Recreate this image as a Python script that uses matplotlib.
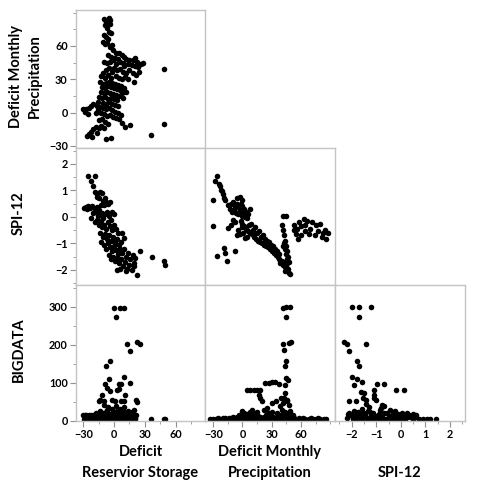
import matplotlib
matplotlib.use("Agg")
import matplotlib.pyplot as plt
from matplotlib.ticker import MultipleLocator

plt.rcParams['font.family'] = ['Lato', 'DejaVu Sans']

# Valores (matriz de dispersion, triangulo inferior)
# fila 1: Deficit Monthly Precipitation vs Deficit Reservior Storage
storage_precip = [
    (-10, 84), (-8, 82), (-5, 85), (-4, 83), (-4, 80), (-9, 79), (-7, 76), (-5, 73), (-3, 72), (-10, 70),
    (-8, 68), (-6, 66), (-11, 64), (-9, 62), (-7, 63), (-2, 61), (-4, 59),
    (-1, 56), (2, 54), (5, 54), (-6, 52), (8, 52), (10, 50), (-3, 50), (1, 49), (4, 48), (12, 48),
    (15, 47), (18, 47), (20, 49), (22, 46), (24, 44), (26, 44), (28, 45), (-10, 46), (-7, 45), (-4, 46),
    (-1, 47), (6, 46), (9, 45), (14, 44), (17, 43), (20, 42), (23, 41), (10, 42), (2, 44),
    (0, 40), (3, 38), (6, 39), (9, 37), (12, 36), (15, 38), (18, 36), (21, 34), (24, 37), (2, 33),
    (5, 31), (8, 30), (11, 32), (14, 30), (19, 28), (-2, 37), (-5, 40), (-8, 38), (-11, 36), (-13, 33),
    (-9, 31), (-6, 34), (-3, 31),
    (-14, 28), (-11, 26), (-8, 27), (-5, 28), (-2, 27), (1, 26), (4, 25), (7, 24), (-12, 23), (-9, 22),
    (-6, 24), (-3, 23), (0, 22), (3, 21), (6, 20), (-13, 19), (-10, 18), (-7, 19), (-4, 18), (-1, 17),
    (2, 16), (5, 15), (-15, 14), (-12, 13), (-9, 14), (-6, 12), (-3, 13), (0, 12), (3, 11), (8, 18),
    (10, 22), (12, 19), (-16, 10), (-11, 9), (-8, 8), (-5, 10), (-2, 8), (1, 7), (4, 6), (9, 13),
    (-20, 8), (-17, 6), (-14, 5), (-11, 4), (-8, 3), (-5, 4), (-2, 2), (1, 1), (4, 0), (7, -2),
    (-13, 0), (-10, -1), (-7, -3), (-4, -2), (-1, -4), (2, -5), (5, -6), (-16, 2), (-30, 3), (-27, 3),
    (-24, 4), (-22, 6), (-18, 0), (-28, 1), (-25, -1), (-12, -6), (-9, -8), (-15, -7), (-6, -10), (8, -9),
    (-18, -13), (-15, -14), (-13, -12), (-20, -15), (-22, -17), (-24, -19), (-26, -21), (-23, -20),
    (-21, -22), (-17, -18), (-10, -14), (-8, -24), (-3, -23), (11, -13), (16, -11),
    (49, 39), (49, -10), (36, -20),
]

# fila 2: SPI-12 vs Deficit Reservior Storage
storage_spi = [
    (-25, 1.55), (-18.5, 1.55), (-22.5, 1.35), (-20.5, 1.15), (-18.5, 0.95), (-16.5, 0.85), (-13.5, 0.95),
    (-12, 0.9), (-15, 0.7), (-17, 0.75),
    (-29, 0.32), (-27, 0.38), (-25, 0.4), (-23, 0.35), (-21, 0.4), (-19, 0.3), (-17, 0.38), (-15, 0.25),
    (-26, 0.3), (-13, 0.45), (-11, 0.6), (-9, 0.7), (-8, 0.55), (-10, 0.45), (-6, 0.5), (-12, 0.15),
    (-14, 0.1), (-16, 0.05), (-18, 0.2), (-20, 0.15),
    (-22, -0.05), (-19, -0.2), (-17, -0.1), (-15, -0.3), (-13, -0.15), (-11, -0.05), (-9, 0.1), (-7, 0.2),
    (-5, 0.05), (-3, -0.1), (-12, -0.4), (-10, -0.3), (-8, -0.45), (-6, -0.2), (-4, -0.35), (-2, -0.5),
    (0, -0.3), (2, -0.45), (4, -0.6), (-14, -0.6), (-11, -0.75), (-9, -0.65), (-7, -0.85), (-5, -0.7),
    (-3, -0.9), (-1, -0.75), (1, -0.95), (3, -0.85), (5, -1.05), (7, -0.95), (-13, -0.95), (-10, -1.05),
    (-8, -1.2), (-6, -1.0), (-4, -1.15), (-2, -1.3), (0, -1.1), (2, -1.25), (4, -1.4), (6, -1.2),
    (8, -1.35), (10, -1.2), (12, -1.5), (14, -1.35), (16, -1.6), (18, -1.45), (20, -1.55), (-5, -1.45),
    (-3, -1.6), (-1, -1.5), (1, -1.65), (3, -1.55), (5, -1.75), (7, -1.6), (9, -1.85), (11, -1.7),
    (13, -1.95), (15, -1.8), (17, -2.0), (19, -1.85), (3, -2.0), (6, -1.95), (12, -2.05), (22.5, -2.2),
    (25, -1.3), (8, -0.6), (10, -0.8), (0, 0.1), (-2, 0.2), (-4, 0.55),
    (37, -1.5), (48.5, -1.67), (49.5, -1.8), (19, -1.75),
]

# fila 3: BIGDATA vs Deficit Reservior Storage
storage_big = [
    (0.3, 297), (5.5, 297), (10, 297), (2, 274), (12.7, 203), (22.5, 206), (24.8, 203), (16, 182),
    (-3.7, 156), (-7.6, 143), (-5.3, 109), (-9.2, 96), (9.4, 114), (4.5, 96), (6.5, 97), (16, 100),
    (-11.8, 68), (-13.5, 55), (-15, 52), (-10, 52), (-7, 86), (-3.7, 77), (-2, 55), (1.3, 51), (6.8, 51),
    (9.4, 51), (11, 68), (3, 81), (5, 84), (21, 55), (22.5, 49), (19, 29), (21, 16),
    (35.6, 4), (48.7, 5), (50, 4),
    (-10, 40), (-6, 35), (-2, 30), (2, 38), (6, 30), (10, 35), (14, 25), (-14, 25), (-18, 20), (0, 22),
    (4, 18), (8, 22), (12, 15), (-4, 18), (-8, 22), (-12, 16), (16, 12), (-20, 14), (-24, 15), (-28, 16),
    (-30, 15), (-27, 10), (-25, 5), (-22, 4), (-20, 8), (-18, 4), (-16, 10), (-14, 4), (-12, 6), (-10, 4),
    (-8, 10), (-6, 5), (-4, 4), (-2, 8), (0, 4), (2, 10), (4, 4), (6, 6), (8, 4), (10, 9),
    (12, 4), (14, 7), (16, 4), (18, 5), (20, 4), (-29, 4), (-26, 4), (-23, 9), (-21, 5), (-17, 6),
    (-15, 4), (-13, 11), (-11, 4), (-9, 6), (-7, 4), (-5, 12), (-3, 5), (-1, 4), (1, 6), (3, 12),
    (5, 4), (7, 11), (9, 5), (11, 4), (13, 11), (15, 5), (17, 9), (19, 4), (-19, 11), (-24, 4),
    (-27, 14), (-25, 12), (-22, 16), (-19, 7), (-16, 15), (-13, 8), (-10, 14), (-8, 6), (-6, 16), (-4, 9),
    (-2, 13), (0, 8), (2, 15), (4, 8), (6, 12), (8, 17), (10, 5), (12, 10), (14, 13), (16, 8),
    (18, 15), (20, 8), (-1, 20), (3, 25), (7, 28), (-7, 28), (11, 22), (15, 18), (-11, 21), (17, 22),
]

# fila 2, col 2: SPI-12 vs Deficit Monthly Precipitation
precip_spi = [
    (-26.5, 1.55), (-28, 1.36), (-23, 1.15), (-21.5, 0.96), (-20.5, 0.85), (-19.5, 0.72), (-30, 0.65),
    (-18, 0.65), (-22, 1.0), (-24, 1.25),
    (-14.5, 0.45), (-12, 0.5), (-10, 0.55), (-8, 0.4), (-6, 0.48), (-4, 0.35), (-2, 0.5), (0, 0.4),
    (2, 0.3), (4, 0.2), (-13, 0.3), (-11, 0.2), (-9, 0.25), (-7, 0.15), (-5, 0.1), (-3, 0.2), (-1, 0.05),
    (1, 0.1), (3, 0.0), (5, -0.05), (-6, 0.7), (-3, 0.75), (0, 0.65), (8, 0.3), (6, 0.1),
    (7, -0.3), (9, -0.25), (11, -0.5), (13, -0.4), (15, -0.6), (17, -0.55), (19, -0.75), (21, -0.7),
    (23, -0.85), (25, -0.9), (10, -0.65), (12, -0.75), (14, -0.85), (16, -0.9), (18, -0.95), (20, -1.0),
    (22, -1.05), (24, -1.1), (26, -1.15), (28, -1.2), (27, -0.95), (29, -1.05), (31, -1.1), (30, -1.3),
    (32, -1.35), (34, -1.45), (36, -1.5), (33, -1.2), (35, -1.3), (37, -1.4), (38, -1.6), (40, -1.7),
    (42, -1.8), (44, -1.9), (46, -2.0), (48, -2.1), (49, -2.15), (39, -1.75), (41, -1.65), (43, -1.75),
    (45, -1.85), (47, -1.95), (44, -2.05), (46, -1.75), (-2, -0.15), (0, -0.25), (2, -0.35), (4, -0.45),
    (6, -0.55), (8, -0.6), (-8, -0.2), (-10, -0.1), (-12, -0.3), (-5, -0.5), (-3, -0.65), (3, -0.8),
    (5, -0.75), (1, -0.6), (-1, -0.4), (-6, -0.7),
    (42, 0.05), (45, 0.05), (41, -0.3), (42, -0.5), (43, -0.7), (44, -0.9), (45, -1.1), (46, -1.3),
    (47, -1.5), (48, -1.7), (44, -1.2), (43, -1.0), (42, -1.1), (45, -1.4), (46, -1.6),
    (63, -0.07), (66, -0.15), (64, -0.3), (69, -0.45), (75, -0.3), (80, -0.28), (78, -0.55), (83, -0.6),
    (85, -0.5), (82, -0.75), (74, -0.7), (68, -0.65), (60, -0.7), (55, -0.65), (53, -0.5), (56, -0.45),
    (60, -0.35), (53, -0.3), (58, -0.2), (71, -0.2), (88, -0.6), (86, -0.85), (57, -0.85), (64, -0.55),
    (-26.5, -1.48), (-19.5, -1.17), (-18, -1.36), (-16, -1.67), (-7.5, -1.3), (-14.5, -0.42), (-30, -0.36),
]

# fila 3, col 2: BIGDATA vs Deficit Monthly Precipitation
precip_big = [
    (41.5, 297), (45, 298), (49, 298), (45, 274), (41.5, 201), (47.3, 204), (49.7, 206), (42.2, 186),
    (45, 156), (44, 144), (45, 112), (46.5, 108), (44, 94), (44, 73), (43, 60), (46, 55), (46, 51),
    (47.3, 42), (4.4, 81), (8, 81), (11.5, 81), (15, 81), (18.1, 81), (16.5, 68), (18, 60), (20, 51),
    (23.3, 99), (27, 99), (30, 101), (33.6, 101), (37, 97), (21.6, 29), (25, 32), (30.2, 46), (34, 51),
    (39, 38), (42, 46), (49, 25), (52, 16), (40, 60),
    (-33, 4), (-30, 4), (-27, 5), (-24, 4), (-21, 5), (-18, 6), (-15, 4), (-12, 7), (-9, 5), (-6, 10),
    (-3, 6), (0, 12), (3, 5), (6, 15), (9, 7), (12, 20), (15, 5), (18, 10), (21, 4), (24, 14),
    (27, 6), (30, 22), (33, 8), (36, 15), (39, 5), (42, 10), (45, 6), (48, 18), (51, 4), (-20, 7),
    (-10, 9), (-4, 14), (2, 20), (8, 24), (14, 16), (20, 8), (26, 18), (32, 5), (38, 8), (44, 22),
    (-1, 4), (5, 4), (11, 5), (17, 4), (23, 6), (29, 4), (35, 5), (41, 4), (47, 5), (55, 4),
    (60, 5), (64, 4), (68, 5), (72, 4), (76, 5), (80, 4), (84, 5), (58, 8), (0, 25), (10, 28),
    (-8, 4), (-5, 8), (-2, 10), (1, 8), (4, 12), (7, 6), (10, 14), (13, 9), (16, 12), (19, 5),
    (22, 10), (25, 8), (28, 14), (31, 10), (34, 6), (37, 12), (40, 16), (43, 14), (46, 10), (49, 8),
    (5, 18), (15, 22), (25, 24), (35, 20), (41, 28), (-14, 6), (-25, 6), (53, 6), (62, 7), (70, 6),
    (78, 6), (86, 4),
]

# fila 3, col 3: BIGDATA vs SPI-12
spi_big = [
    (-2, 298), (-1.69, 298), (-1.2, 298), (-1.69, 274), (-2.32, 206), (-2.2, 203), (-2.09, 182),
    (-1.4, 203), (-1.79, 156), (-1.69, 143), (-2, 114), (-1.79, 109), (-1.6, 101), (-1.89, 94),
    (-0.99, 97), (-0.69, 97), (-1.09, 81), (-1.09, 68), (-1.09, 60), (-1.03, 55), (-1.63, 75),
    (-1.5, 72), (-1.56, 60), (-1.43, 55), (-2.09, 51), (-1.83, 51), (-0.19, 81), (0.11, 81),
    (-0.8, 33), (-0.69, 38), (-0.75, 42), (-1.4, 45),
    (-2.1, 20), (-1.95, 18), (-1.8, 12), (-1.65, 20), (-1.5, 8), (-1.35, 25), (-1.2, 15), (-1.05, 6),
    (-0.9, 18), (-0.75, 10), (-0.6, 5), (-0.45, 12), (-0.3, 22), (-0.15, 8), (0.0, 15), (0.15, 5),
    (0.3, 10), (0.45, 6), (0.6, 15), (0.75, 4), (-1.85, 4), (-1.7, 6), (-1.55, 4), (-1.4, 5),
    (-1.25, 4), (-1.1, 4), (-0.95, 4), (-0.8, 5), (-0.65, 4), (-0.5, 5), (-0.35, 4), (-0.2, 5),
    (-0.05, 4), (0.1, 4), (0.9, 4), (1.05, 4), (1.2, 4), (1.45, 4), (-1.95, 5), (-1.45, 15),
    (-1.25, 24), (-0.85, 28), (-0.25, 25), (-0.1, 18), (0.25, 20), (-2.15, 18), (-1.75, 22),
    (0.5, 18), (-0.55, 20), (-1.0, 12),
    (-2.2, 8), (-2.0, 12), (-1.8, 20), (-1.6, 10), (-1.5, 20), (-1.3, 8), (-1.15, 20), (-1.0, 6),
    (-0.85, 14), (-0.7, 20), (-0.5, 10), (-0.4, 6), (-0.25, 14), (-0.05, 10), (0.05, 20), (0.2, 12),
    (0.35, 16), (0.55, 8), (-1.9, 25), (-1.6, 30), (-1.3, 35), (-0.45, 28),
]

col_labels = [["Deficit", "Reservior Storage"], ["Deficit Monthly", "Precipitation"], ["SPI-12"]]
row_labels = [["Deficit Monthly", "Precipitation"], ["SPI-12"], ["BIGDATA"]]

col_lims = [(-37, 88.5), (-38.5, 95), (-2.68, 2.61)]
row_lims = [(-31.8, 92.4), (-2.57, 2.6), (-1, 357)]
col_ticks = [[-30, 0, 30, 60], [-30, 0, 30, 60], [-2, -1, 0, 1, 2]]
row_ticks = [[-30, 0, 30, 60], [-2, -1, 0, 1, 2], [0, 100, 200, 300]]

W, H = 495, 488
col_px = [(76, 129), (205, 130), (335, 130)]
row_px = [(10, 138), (148, 137), (285, 136)]

paneles = {
    (0, 0): storage_precip,
    (1, 0): storage_spi,
    (2, 0): storage_big,
    (1, 1): precip_spi,
    (2, 1): precip_big,
    (2, 2): spi_big,
}

fig = plt.figure(figsize=(W / 100, H / 100), dpi=100)
gris = '#c4c4c4'

for (r, c), puntos in paneles.items():
    x0, w = col_px[c]
    y0, h = row_px[r]
    ax = fig.add_axes([x0 / W, 1 - (y0 + h) / H, w / W, h / H])
    xs = [p[0] for p in puntos]
    ys = [p[1] for p in puntos]
    ax.scatter(xs, ys, s=16, color='black', linewidths=0)
    ax.set_xlim(col_lims[c])
    ax.set_ylim(row_lims[r])
    for sp in ax.spines.values():
        sp.set_color(gris)
        sp.set_linewidth(1)
    ax.tick_params(which='both', color='#909090', labelsize=7.8, pad=2)
    ax.tick_params(which='major', length=4)
    ax.tick_params(which='minor', length=2)
    if c == 0:
        ax.set_yticks(row_ticks[r])
        paso = row_ticks[r][1] - row_ticks[r][0]
        ax.yaxis.set_minor_locator(MultipleLocator(paso / 2))
        for t in ax.get_yticklabels():
            t.set_fontweight('bold')
    else:
        ax.set_yticks([])
        ax.tick_params(axis='y', which='both', left=False)
    if r == 2:
        ax.set_xticks(col_ticks[c])
        paso = col_ticks[c][1] - col_ticks[c][0]
        ax.xaxis.set_minor_locator(MultipleLocator(paso / 2))
        for t in ax.get_xticklabels():
            t.set_fontweight('bold')
    else:
        ax.set_xticks([])
        ax.tick_params(axis='x', which='both', bottom=False)

# titulos de columnas (abajo)
for c, lineas in enumerate(col_labels):
    x0, w = col_px[c]
    cx = (x0 + w / 2) / W
    ys_px = [452, 473] if len(lineas) == 2 else [473]
    for linea, ypx in zip(lineas, ys_px):
        fig.text(cx, 1 - ypx / H, linea, ha='center', va='center', fontsize=10.5, fontweight='bold')

# titulos de filas (izquierda, rotados)
for r, lineas in enumerate(row_labels):
    y0, h = row_px[r]
    cy = 1 - (y0 + h / 2 - 3) / H
    xs_px = [16, 35] if len(lineas) == 2 else [19]
    for linea, xpx in zip(lineas, xs_px):
        fig.text(xpx / W, cy, linea, ha='center', va='center', rotation=90,
                 fontsize=10.5, fontweight='bold')

fig.savefig('out.png', dpi=100)
